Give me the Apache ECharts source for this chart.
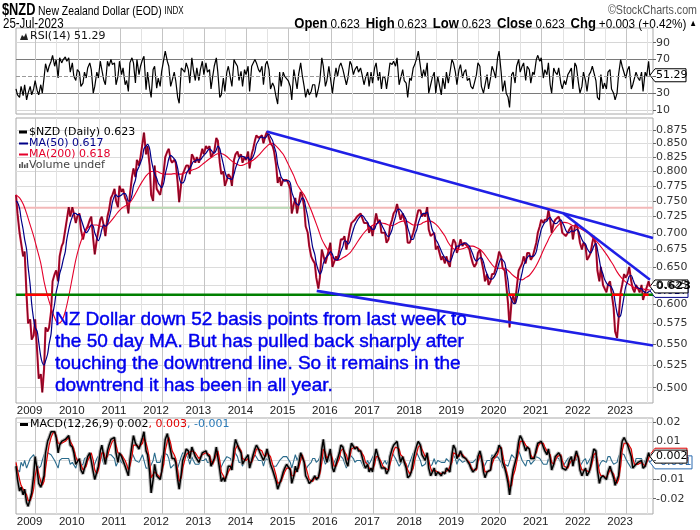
<!DOCTYPE html>
<html><head><meta charset="utf-8">
<script src="https://cdn.jsdelivr.net/npm/echarts@6/dist/echarts.min.js"></script>
<style>html,body{margin:0;padding:0;background:#fff}#c{width:700px;height:530px}</style>
</head><body><div id="c"></div>
<script>
// ---------------- DATA (semi-monthly closes, Jul-2008 .. Jul-2023) ----------------
const price = [
0.760,0.730,0.700,0.698,0.665,0.672,0.610,0.575,0.580,0.555,0.560,0.580,
0.540,0.510,0.515,0.495,0.520,0.570,0.565,0.570,0.590,0.630,0.640,0.645,0.630,0.665,0.680,0.685,0.705,0.720,0.740,0.725,0.740,0.730,0.715,0.725,
0.730,0.705,0.690,0.700,0.700,0.710,0.720,0.725,0.690,0.668,0.690,0.690,0.720,0.725,0.710,0.695,0.725,0.735,0.755,0.760,0.770,0.750,0.740,0.775,
0.765,0.770,0.755,0.750,0.730,0.760,0.790,0.805,0.790,0.820,0.810,0.825,0.850,0.870,0.830,0.845,0.810,0.760,0.750,0.810,0.770,0.770,0.760,0.775,
0.800,0.825,0.835,0.840,0.820,0.815,0.820,0.815,0.780,0.748,0.780,0.795,0.795,0.810,0.810,0.795,0.830,0.825,0.815,0.825,0.815,0.825,0.840,0.830,
0.845,0.840,0.845,0.825,0.825,0.835,0.860,0.855,0.815,0.795,0.800,0.775,0.785,0.795,0.790,0.775,0.820,0.830,0.835,0.825,0.830,0.815,0.825,0.820,
0.835,0.805,0.830,0.840,0.855,0.865,0.860,0.860,0.865,0.850,0.865,0.872,0.870,0.850,0.845,0.835,0.810,0.780,0.790,0.775,0.785,0.785,0.785,0.780,
0.770,0.730,0.745,0.755,0.730,0.745,0.765,0.760,0.740,0.710,0.700,0.680,0.665,0.660,0.655,0.635,0.620,0.635,0.675,0.675,0.655,0.655,0.675,0.685,
0.650,0.650,0.665,0.660,0.675,0.690,0.690,0.695,0.675,0.675,0.705,0.715,0.715,0.720,0.725,0.725,0.730,0.730,0.715,0.715,0.715,0.700,0.710,0.695,
0.715,0.730,0.715,0.720,0.700,0.700,0.700,0.685,0.690,0.710,0.720,0.730,0.735,0.745,0.730,0.720,0.730,0.720,0.710,0.685,0.685,0.685,0.700,0.710,
0.725,0.735,0.735,0.725,0.730,0.725,0.740,0.705,0.695,0.695,0.700,0.675,0.680,0.680,0.660,0.665,0.655,0.665,0.655,0.650,0.680,0.690,0.685,0.670,
0.680,0.690,0.680,0.685,0.685,0.680,0.675,0.665,0.655,0.650,0.655,0.670,0.675,0.660,0.645,0.630,0.640,0.625,0.630,0.640,0.640,0.640,0.660,0.672,
0.665,0.648,0.645,0.625,0.600,0.570,0.605,0.610,0.600,0.620,0.645,0.645,0.655,0.665,0.655,0.670,0.670,0.660,0.665,0.665,0.685,0.700,0.710,0.720,
0.715,0.720,0.720,0.735,0.720,0.700,0.715,0.720,0.720,0.725,0.715,0.700,0.700,0.695,0.700,0.705,0.710,0.690,0.710,0.715,0.700,0.685,0.675,0.685,
0.680,0.660,0.665,0.670,0.685,0.695,0.680,0.645,0.630,0.650,0.625,0.625,0.615,0.625,0.630,0.615,0.595,0.565,0.557,0.580,0.615,0.625,0.640,0.635,
0.640,0.650,0.630,0.620,0.615,0.625,0.620,0.615,0.625,0.605,0.615,0.615,0.630,0.623];
const ma50 = [
0.750,0.748,0.738,0.722,0.705,0.690,0.675,0.650,0.625,0.600,0.580,0.570,
0.565,0.552,0.535,0.528,0.525,0.530,0.538,0.550,0.562,0.585,0.600,0.615,0.627,0.640,0.650,0.660,0.672,0.690,0.705,0.715,0.725,0.730,0.730,0.728,
0.728,0.722,0.712,0.705,0.700,0.702,0.708,0.712,0.710,0.700,0.692,0.688,0.695,0.705,0.712,0.710,0.713,0.722,0.735,0.748,0.758,0.760,0.757,0.758,
0.760,0.762,0.762,0.758,0.750,0.750,0.760,0.775,0.785,0.800,0.808,0.815,0.825,0.840,0.845,0.848,0.840,0.822,0.805,0.795,0.788,0.780,0.775,0.772,
0.780,0.795,0.810,0.822,0.828,0.826,0.822,0.818,0.805,0.790,0.780,0.780,0.785,0.795,0.802,0.805,0.812,0.817,0.818,0.820,0.820,0.820,0.825,0.828,
0.832,0.836,0.840,0.838,0.834,0.832,0.838,0.845,0.840,0.828,0.812,0.800,0.790,0.788,0.787,0.786,0.795,0.805,0.815,0.822,0.827,0.826,0.825,0.822,
0.825,0.820,0.822,0.826,0.835,0.848,0.855,0.860,0.862,0.860,0.860,0.865,0.867,0.862,0.855,0.845,0.832,0.812,0.800,0.790,0.785,0.783,0.784,0.784,
0.780,0.765,0.755,0.748,0.745,0.743,0.750,0.755,0.752,0.740,0.725,0.710,0.692,0.678,0.668,0.655,0.645,0.640,0.645,0.655,0.662,0.665,0.668,0.672,
0.668,0.662,0.660,0.660,0.665,0.672,0.680,0.688,0.687,0.683,0.687,0.695,0.705,0.712,0.718,0.722,0.726,0.727,0.724,0.720,0.716,0.711,0.708,0.705,
0.706,0.712,0.716,0.718,0.713,0.708,0.702,0.697,0.694,0.697,0.705,0.715,0.725,0.735,0.737,0.735,0.730,0.726,0.720,0.708,0.698,0.690,0.690,0.697,
0.705,0.715,0.724,0.728,0.730,0.730,0.732,0.725,0.715,0.705,0.698,0.690,0.685,0.680,0.673,0.668,0.663,0.660,0.658,0.657,0.663,0.670,0.676,0.680,
0.680,0.682,0.683,0.684,0.685,0.683,0.680,0.675,0.668,0.662,0.658,0.660,0.663,0.663,0.657,0.648,0.640,0.635,0.633,0.633,0.636,0.640,0.648,0.656,
0.662,0.660,0.656,0.645,0.630,0.612,0.605,0.601,0.600,0.605,0.618,0.630,0.642,0.652,0.658,0.663,0.666,0.665,0.665,0.666,0.672,0.683,0.695,0.705,
0.712,0.716,0.718,0.722,0.724,0.720,0.716,0.714,0.715,0.718,0.720,0.716,0.710,0.704,0.700,0.700,0.703,0.702,0.703,0.705,0.703,0.697,0.690,0.686,
0.683,0.677,0.672,0.670,0.674,0.680,0.684,0.675,0.660,0.648,0.640,0.633,0.628,0.625,0.624,0.622,0.615,0.602,0.588,0.583,0.585,0.595,0.610,0.622,
0.630,0.637,0.638,0.633,0.627,0.623,0.621,0.620,0.620,0.617,0.615,0.614,0.616,0.617];
// monthly (mid-month) 200-day MA
const ma200 = [
0.760,0.755,0.745,0.730,0.712,0.695,
0.675,0.655,0.630,0.610,0.595,0.582,0.575,0.578,0.590,0.610,0.635,0.660,
0.680,0.695,0.705,0.710,0.712,0.712,0.710,0.710,0.712,0.718,0.725,0.732,
0.738,0.742,0.745,0.752,0.762,0.773,0.783,0.792,0.798,0.800,0.800,0.797,
0.795,0.795,0.795,0.796,0.795,0.795,0.797,0.800,0.802,0.804,0.807,0.812,
0.817,0.822,0.826,0.830,0.832,0.830,0.826,0.820,0.815,0.812,0.810,0.812,
0.815,0.818,0.822,0.828,0.835,0.842,0.848,0.850,0.845,0.838,0.830,0.818,
0.805,0.792,0.778,0.768,0.760,0.748,0.735,0.720,0.705,0.690,0.680,0.672,
0.663,0.659,0.660,0.663,0.666,0.670,0.677,0.685,0.693,0.700,0.706,0.710,
0.713,0.715,0.715,0.714,0.712,0.711,0.713,0.716,0.718,0.718,0.715,0.712,
0.712,0.713,0.716,0.718,0.718,0.715,0.710,0.703,0.695,0.685,0.678,0.675,
0.675,0.676,0.678,0.680,0.680,0.678,0.675,0.670,0.663,0.656,0.650,0.648,
0.648,0.648,0.645,0.640,0.636,0.633,0.632,0.635,0.638,0.644,0.652,0.662,
0.674,0.685,0.695,0.703,0.710,0.715,0.716,0.715,0.712,0.710,0.708,0.705,
0.702,0.698,0.693,0.688,0.682,0.675,0.668,0.660,0.652,0.643,0.636,0.631,
0.627,0.624,0.621,0.620,0.620,0.619,0.618];
const rsi = [
35,28,25,38,27,40,22,30,38,28,35,45,
33,28,40,30,48,65,55,62,68,75,62,70,48,72,66,70,73,68,72,55,66,50,45,58,
55,38,42,55,48,60,66,58,30,38,55,48,68,58,45,40,68,62,70,64,66,40,50,68,
52,60,40,45,32,66,72,66,42,70,52,62,70,74,34,55,35,25,58,62,36,48,38,56,
70,80,68,62,38,45,55,45,25,18,60,62,55,66,58,42,72,58,45,60,45,58,68,52,
66,55,58,35,50,62,72,55,25,28,48,32,55,62,48,38,70,66,62,45,56,38,58,52,
62,32,62,64,70,66,58,55,62,40,64,68,58,35,42,38,25,17,55,38,55,50,52,45,
38,22,58,56,35,52,66,52,38,25,35,28,32,40,40,25,35,45,72,62,38,45,62,60,
30,45,60,50,62,66,58,60,40,48,68,64,52,58,62,55,60,52,40,48,55,38,55,42,
60,66,45,55,35,50,48,35,52,66,64,68,62,72,40,42,58,45,42,25,48,45,60,64,
72,80,62,48,58,50,66,30,40,48,55,30,50,48,28,48,35,55,42,40,70,66,55,40,
58,64,48,55,58,45,48,38,35,42,52,66,62,38,30,28,52,35,48,62,55,48,72,80,
55,32,45,30,25,13,52,55,42,62,70,55,62,66,45,62,58,42,55,52,70,75,68,72,
48,58,52,66,40,30,60,55,52,60,42,35,45,40,52,55,60,35,66,62,42,30,38,55,
45,32,52,55,62,62,45,25,22,52,35,42,35,55,58,35,30,22,30,52,70,62,64,48,
58,62,35,40,42,55,48,45,55,32,55,50,68,51.29];
const macd = [
-0.003,-0.010,-0.016,-0.014,-0.018,-0.015,-0.022,-0.024,-0.020,-0.017,-0.008,0.002,
-0.005,-0.012,-0.014,-0.013,-0.008,0.004,0.010,0.012,0.015,0.016,0.015,0.012,0.004,0.008,0.010,0.009,0.011,0.012,0.013,0.008,0.007,0.004,-0.002,-0.001,
0.001,-0.005,-0.007,-0.004,-0.001,0.002,0.004,0.005,-0.006,-0.010,-0.006,-0.003,0.005,0.008,0.002,-0.002,0.005,0.008,0.011,0.012,0.012,0.004,-0.001,0.004,
0.002,0.001,-0.003,-0.004,-0.008,0.000,0.008,0.013,0.009,0.008,0.006,0.007,0.012,0.015,0.005,0.003,-0.006,-0.017,-0.010,-0.002,-0.008,-0.009,-0.010,-0.006,
0.004,0.011,0.014,0.013,0.005,0.001,0.001,-0.001,-0.010,-0.015,-0.007,0.000,0.003,0.006,0.005,0.001,0.007,0.006,0.002,0.002,-0.001,0.001,0.004,0.003,
0.005,0.003,0.002,-0.003,-0.003,0.001,0.007,0.006,-0.005,-0.011,-0.009,-0.011,-0.007,-0.003,-0.003,-0.005,0.006,0.011,0.010,0.006,0.004,-0.002,0.000,-0.001,
0.003,-0.004,0.000,0.003,0.006,0.008,0.006,0.004,0.005,0.000,0.003,0.006,0.005,-0.002,-0.005,-0.006,-0.011,-0.015,-0.012,-0.010,-0.006,-0.004,-0.002,-0.002,
-0.005,-0.012,-0.008,-0.003,-0.006,-0.002,0.004,0.005,-0.001,-0.008,-0.010,-0.012,-0.012,-0.010,-0.008,-0.010,-0.009,-0.005,0.006,0.011,0.002,-0.001,0.003,0.006,
-0.004,-0.006,-0.002,-0.001,0.004,0.008,0.007,0.006,-0.001,-0.003,0.005,0.009,0.008,0.006,0.007,0.005,0.005,0.004,-0.002,-0.004,-0.002,-0.006,-0.004,-0.006,
0.002,0.006,0.002,0.002,-0.004,-0.005,-0.004,-0.007,-0.005,0.002,0.006,0.008,0.008,0.010,0.003,-0.001,0.002,-0.001,-0.004,-0.009,-0.008,-0.006,0.000,0.004,
0.008,0.010,0.008,0.003,0.002,0.000,0.004,-0.004,-0.008,-0.008,-0.004,-0.008,-0.006,-0.005,-0.008,-0.006,-0.007,-0.004,-0.005,-0.006,0.003,0.008,0.006,0.001,
0.003,0.005,0.002,0.002,0.001,0.000,-0.002,-0.004,-0.006,-0.007,-0.004,0.002,0.005,0.002,-0.006,-0.009,-0.006,-0.007,-0.005,0.001,0.002,0.001,0.005,0.008,
0.006,-0.001,-0.004,-0.007,-0.012,-0.018,-0.010,-0.005,-0.004,0.002,0.010,0.013,0.011,0.010,0.005,0.007,0.006,0.001,0.000,0.001,0.006,0.009,0.010,0.010,
0.007,0.005,0.003,0.006,0.001,-0.005,-0.002,0.002,0.003,0.004,0.002,-0.004,-0.005,-0.005,-0.003,0.000,0.002,-0.003,0.002,0.005,0.001,-0.005,-0.008,-0.006,
-0.004,-0.008,-0.006,-0.003,0.002,0.006,0.005,-0.005,-0.012,-0.009,-0.008,-0.009,-0.010,-0.006,-0.003,-0.004,-0.009,-0.013,-0.013,-0.008,0.004,0.010,0.012,0.011,
0.008,0.009,0.002,-0.004,-0.005,-0.002,-0.001,-0.002,0.000,-0.004,-0.003,0.000,0.004,0.002];
const signal = [
-0.001,-0.005,-0.010,-0.013,-0.015,-0.015,-0.018,-0.021,-0.021,-0.019,-0.015,-0.008,
-0.003,-0.007,-0.011,-0.013,-0.011,-0.004,0.003,0.008,0.012,0.014,0.015,0.013,0.009,0.008,0.009,0.009,0.010,0.011,0.012,0.010,0.008,0.006,0.002,0.000,
0.000,-0.002,-0.005,-0.005,-0.003,0.000,0.002,0.004,0.000,-0.005,-0.007,-0.005,0.000,0.004,0.004,0.001,0.002,0.005,0.008,0.010,0.011,0.008,0.004,0.003,
0.003,0.002,0.000,-0.002,-0.005,-0.003,0.002,0.008,0.009,0.008,0.007,0.007,0.009,0.012,0.009,0.006,0.000,-0.009,-0.010,-0.006,-0.007,-0.008,-0.009,-0.008,
-0.002,0.005,0.010,0.012,0.009,0.005,0.003,0.001,-0.005,-0.011,-0.009,-0.004,0.000,0.003,0.004,0.003,0.005,0.006,0.004,0.003,0.001,0.001,0.003,0.003,
0.004,0.004,0.003,0.000,-0.002,-0.001,0.003,0.005,0.000,-0.006,-0.008,-0.010,-0.009,-0.006,-0.004,-0.004,0.001,0.006,0.008,0.007,0.005,0.001,0.000,0.000,
0.001,-0.001,-0.001,0.001,0.003,0.006,0.006,0.005,0.005,0.003,0.002,0.004,0.005,0.002,-0.002,-0.004,-0.008,-0.012,-0.012,-0.011,-0.008,-0.006,-0.004,-0.003,
-0.004,-0.008,-0.008,-0.006,-0.006,-0.004,0.000,0.003,0.002,-0.003,-0.007,-0.010,-0.011,-0.011,-0.009,-0.009,-0.009,-0.007,-0.001,0.006,0.004,0.001,0.002,0.004,
0.001,-0.003,-0.003,-0.002,0.001,0.005,0.006,0.006,0.003,0.000,0.002,0.006,0.007,0.007,0.007,0.006,0.005,0.005,0.002,-0.001,-0.002,-0.004,-0.004,-0.005,
-0.002,0.002,0.002,0.002,-0.001,-0.003,-0.004,-0.005,-0.005,-0.002,0.002,0.005,0.007,0.008,0.006,0.003,0.002,0.000,-0.002,-0.005,-0.007,-0.007,-0.004,0.000,
0.004,0.007,0.008,0.006,0.004,0.002,0.003,0.000,-0.004,-0.006,-0.005,-0.006,-0.006,-0.006,-0.007,-0.006,-0.006,-0.005,-0.005,-0.005,-0.001,0.004,0.005,0.003,
0.002,0.004,0.003,0.002,0.001,0.000,-0.001,-0.003,-0.005,-0.006,-0.005,-0.001,0.003,0.003,-0.002,-0.006,-0.006,-0.006,-0.005,-0.002,0.001,0.001,0.003,0.006,
0.007,0.003,-0.002,-0.005,-0.009,-0.014,-0.013,-0.008,-0.005,-0.001,0.005,0.010,0.011,0.010,0.008,0.007,0.006,0.003,0.001,0.001,0.004,0.007,0.009,0.010,
0.009,0.007,0.005,0.005,0.003,-0.001,-0.002,0.000,0.002,0.003,0.003,0.000,-0.003,-0.004,-0.004,-0.002,0.000,-0.001,0.000,0.003,0.002,-0.002,-0.005,-0.006,
-0.005,-0.006,-0.006,-0.004,-0.001,0.003,0.004,0.000,-0.006,-0.008,-0.008,-0.009,-0.009,-0.008,-0.005,-0.004,-0.007,-0.010,-0.012,-0.010,-0.003,0.005,0.009,0.010,
0.009,0.009,0.006,0.001,-0.002,-0.003,-0.002,-0.002,-0.001,-0.002,-0.003,-0.002,0.001,0.003];
const hist = [
-0.002,-0.005,-0.006,-0.001,-0.003,0.000,-0.004,-0.003,0.001,0.002,0.003,0.004,
-0.002,-0.004,-0.003,0.000,0.003,0.004,0.004,0.003,0.003,0.002,0.000,-0.001,-0.004,0.000,0.001,0.000,0.001,0.001,0.001,-0.002,-0.001,-0.002,-0.004,-0.001,
0.001,-0.003,-0.002,0.001,0.002,0.002,0.002,0.001,-0.004,-0.004,0.001,0.002,0.004,0.003,-0.002,-0.003,0.003,0.003,0.003,0.002,0.001,-0.003,-0.004,0.001,
-0.001,-0.001,-0.003,-0.002,-0.003,0.003,0.004,0.004,0.000,0.000,-0.001,0.000,0.003,0.003,-0.004,-0.003,-0.004,-0.005,0.000,0.004,-0.001,-0.001,-0.001,0.002,
0.004,0.004,0.003,0.001,-0.004,-0.003,-0.002,-0.002,-0.004,-0.004,0.002,0.004,0.003,0.003,0.001,-0.002,0.002,0.000,-0.002,-0.001,-0.002,0.000,0.001,0.000,
0.001,-0.001,-0.001,-0.003,-0.001,0.002,0.004,0.001,-0.005,-0.005,-0.001,-0.001,0.002,0.003,0.001,-0.001,0.005,0.005,0.002,-0.001,-0.001,-0.003,0.000,-0.001,
0.002,-0.003,0.001,0.002,0.003,0.002,0.000,-0.001,0.000,-0.003,0.001,0.002,0.000,-0.004,-0.003,-0.002,-0.003,-0.003,0.000,0.001,0.002,0.002,0.002,0.001,
-0.001,-0.004,0.000,0.003,0.000,0.002,0.004,0.002,-0.003,-0.005,-0.003,-0.002,-0.001,0.001,0.001,-0.001,0.000,0.002,0.004,0.004,-0.002,-0.002,0.001,0.002,
-0.003,-0.002,0.001,0.001,0.003,0.003,0.001,0.000,-0.004,-0.003,0.003,0.003,0.001,-0.001,0.000,-0.001,0.000,-0.001,-0.004,-0.003,0.000,-0.002,0.000,-0.001,
0.004,0.004,0.000,0.000,-0.003,-0.002,0.000,-0.002,0.000,0.004,0.004,0.003,0.001,0.002,-0.003,-0.004,0.000,-0.001,-0.002,-0.004,-0.001,0.001,0.004,0.004,
0.004,0.003,0.000,-0.003,-0.002,-0.002,0.001,-0.004,-0.004,-0.002,0.001,-0.002,0.000,0.001,-0.001,0.000,-0.001,0.001,0.000,-0.001,0.004,0.004,0.001,-0.002,
0.001,0.001,-0.001,0.000,0.000,0.000,-0.001,-0.001,-0.001,-0.001,0.001,0.003,0.002,-0.001,-0.004,-0.003,0.000,-0.001,0.000,0.003,0.001,0.000,0.002,0.002,
-0.001,-0.004,-0.002,-0.002,-0.003,-0.004,0.003,0.003,0.001,0.003,0.005,0.003,0.000,0.000,-0.003,0.000,0.000,-0.002,-0.001,0.000,0.002,0.002,0.001,0.000,
-0.002,-0.002,-0.002,0.001,-0.002,-0.004,0.000,0.002,0.001,0.001,-0.001,-0.004,-0.002,-0.001,0.001,0.002,0.002,-0.002,0.002,0.002,-0.001,-0.003,-0.003,0.000,
0.001,-0.002,0.000,0.001,0.003,0.003,0.001,-0.005,-0.006,-0.001,0.000,0.000,-0.001,0.002,0.002,0.000,-0.002,-0.003,-0.001,0.002,0.004,0.004,0.003,0.001,
-0.001,0.000,-0.004,-0.004,-0.003,0.001,0.001,0.000,0.001,-0.002,0.000,0.002,0.003,-0.001];

const yearLabels = [2009,2010,2011,2012,2013,2014,2015,2016,2017,2018,2019,2020,2021,2022,2023];
const priceTicks = [0.500,0.525,0.550,0.575,0.600,0.625,0.650,0.675,0.700,0.725,0.750,0.775,0.800,0.825,0.850,0.875];
const rsiTicks = [10,30,50,70,90];
const rsiLabels = [10,30,70,90];
const macdTicks = [-0.02,-0.01,0,0.01,0.02];
// annotation lines
const trendUpper = [['2014-06-24',0.872],['2023-08-22',0.692]];
const trendLower = [['2015-09-01',0.617],['2023-08-22',0.548]];
const trendSteep = [['2021-07-08',0.730],['2023-07-27',0.632]];
const supportLevel = 0.612;
const supportRed = [['2008-10-01','2009-05-19'],['2020-03-14','2020-05-15'],['2022-09-01','2022-12-05'],['2023-05-26','2023-07-15']];
const resistLevel = 0.739;
const resistGreen = [['2011-03-03','2015-07-05']];
const firstDate = '2008-07-15', lastDate = '2023-08-22';

// ---------------- helpers ----------------
function dy(s){const p=s.split('-').map(Number);const a=Date.UTC(p[0],0,1),b=Date.UTC(p[0]+1,0,1);return p[0]+(Date.UTC(p[0],p[1]-1,p[2])-a)/(b-a);}
const halfDates=[];const monthDates=[];
for(let y=2008;y<=2023;y++)for(let m=1;m<=12;m++){
  if(y===2008&&m<7)continue; if(y===2023&&m>7)break;
  halfDates.push(`${y}-${m}-15`); halfDates.push((y===2023&&m===7)?`${y}-${m}-25`:`${y}-${m}-28`);
  monthDates.push((y===2023&&m===7)?`${y}-${m}-25`:`${y}-${m}-15`);
}
[['price',price],['ma50',ma50],['rsi',rsi],['macd',macd],['signal',signal],['hist',hist]].forEach(([n,a])=>{if(a.length!==halfDates.length)throw new Error(n+' length '+a.length+' vs '+halfDates.length);});
if(ma200.length!==monthDates.length)throw new Error('ma200 '+ma200.length+' vs '+monthDates.length);
const T=halfDates.map(dy);
const xMin=dy(firstDate), xMax=dy(lastDate);
const L=Math.log;
const pairs=(arr,f)=>arr.map((v,i)=>[T[i],f?f(v):v]);
const halfYears=[];for(let y=2009;y<=2023.5;y+=0.5)halfYears.push(y);

const TXT='"DejaVu Sans", Verdana, sans-serif';
const ARI='"Liberation Sans", Arial, sans-serif';
const GRID=[{left:16,top:28,width:637,height:86},{left:16,top:118,width:637,height:285},{left:16,top:418,width:637,height:96}];

function xAxis(i,labels){return{type:'value',gridIndex:i,min:xMin,max:xMax,
  axisLine:{show:false},axisTick:{show:false,customValues:halfYears},
  axisLabel:{show:labels,customValues:yearLabels,formatter:v=>String(Math.round(v)),color:'#222',fontFamily:ARI,fontSize:11.5,margin:2,padding:[0,12,0,0]},
  splitLine:{show:true,lineStyle:{color:['#c4c4c4','#e2e2e2'],width:1}}};}
function yAxis(i,o){return Object.assign({type:'value',gridIndex:i,position:'right',scale:true,
  axisLine:{show:false},axisTick:{show:true,length:3,lineStyle:{color:'#666'},customValues:o.ticks},
  axisLabel:{customValues:o.labels,formatter:o.fmt,color:'#333',fontFamily:TXT,fontSize:11,margin:3},
  splitLine:{show:true,lineStyle:{color:o.split||'#dcdcdc',width:1}}},{min:o.min,max:o.max});}

const lineS=(name,xi,data,color,width,extra)=>Object.assign({name,type:'line',xAxisIndex:xi,yAxisIndex:xi,data,symbol:'none',silent:true,animation:false,
  lineStyle:{color,width},itemStyle:{color}},extra||{});
const seg=(a,b,v)=>[[dy(a),L(v)],[dy(b),L(v)]];

const series=[];
// RSI
series.push(lineS('RSI',0,pairs(rsi),'#000',1.2,{markLine:{silent:true,symbol:'none',label:{show:false},lineStyle:{color:'#9a9a9a',type:'dashed',width:1},data:[{yAxis:50}]}}));
// Main: resistance pink/green
series.push(lineS('res',1,seg(firstDate,lastDate,resistLevel),'#f3b8b8',2));
resistGreen.forEach(r=>series.push(lineS('resg',1,seg(r[0],r[1],resistLevel),'#b9dcb9',2)));
// price
series.push(lineS('price',1,pairs(price,L),'#d0103a',2.1));
series.push(lineS('priceBlk',1,pairs(price,L),'#000',0.8,{lineStyle:{color:'#000',width:0.8,opacity:0.5}}));
series.push(lineS('MA200',1,monthDates.map((d,i)=>[dy(d),L(ma200[i])]),'#e4002b',1.1,{smooth:0.3}));
series.push(lineS('MA50',1,pairs(ma50,L),'#000088',1.2,{smooth:0.3}));
// support
series.push(lineS('sup',1,seg(firstDate,lastDate,supportLevel),'#008000',2.5));
supportRed.forEach(r=>series.push(lineS('supr',1,seg(r[0],r[1],supportLevel),'#ff0000',2.5)));
// trend lines
[trendUpper,trendLower,trendSteep].forEach(t=>series.push(lineS('trend',1,t.map(p=>[dy(p[0]),L(p[1])]),'#1f1fe6',2.6)));
// MACD
series.push(lineS('hist',2,pairs(hist),'#2a6b8c',1.1));
series.push(lineS('halo',2,pairs(macd),'#b4b4b4',3.6));
series.push(lineS('signal',2,pairs(signal),'#e00000',1.2));
series.push(lineS('macd',2,pairs(macd),'#000',1.5));

const chart=echarts.init(document.getElementById('c'),null,{renderer:'canvas'});
chart.setOption({
  animation:false,backgroundColor:'#fff',
  grid:GRID.map(g=>Object.assign({show:true,borderColor:'#a8a8a8',borderWidth:1,backgroundColor:'#fff'},g)),
  xAxis:[xAxis(0,false),xAxis(1,true),xAxis(2,true)],
  yAxis:[
    yAxis(0,{min:5.2,max:107.5,ticks:rsiTicks,labels:rsiLabels,fmt:v=>String(v),split:['#d6d6d6','#7a7a7a','rgba(0,0,0,0)','#7a7a7a','#d6d6d6']}),
    yAxis(1,{min:L(0.4837),max:L(0.8981),ticks:priceTicks.map(L),labels:priceTicks.map(L),fmt:v=>Math.exp(v).toFixed(3)}),
    yAxis(2,{min:-0.028,max:0.0222,ticks:macdTicks,labels:macdTicks,fmt:v=>Math.abs(v)<1e-9?'':String(+v.toFixed(2))})
  ],
  series
});

// ---------------- texts / boxes ----------------
function txt(x,y,text,font,fill,align,extra){return Object.assign({type:'text',z:100,silent:true,style:{x,y,text,font,fill,align:align||'left',textAlign:align||'left',verticalAlign:'middle',textVerticalAlign:'middle'}},extra||{});}
function ntxt(x,y,sx,style){return {type:'text',z:100,silent:true,x,y,scaleX:sx,style:Object.assign({x:0,y:0,verticalAlign:'middle',textVerticalAlign:'middle'},style)};}
function box(axisIdx,val,text,border,color,bold,w){
  const y=chart.convertToPixel({yAxisIndex:axisIdx},val);
  const x0=650,h=6.5;w=w||32;
  return {type:'group',z:120,silent:true,children:[
    {type:'polygon',shape:{points:[[x0,y],[x0+5,y-h],[x0+5+w,y-h],[x0+5+w,y+h],[x0+5,y+h]]},style:{fill:'#fff',stroke:border,lineWidth:1}},
    {type:'text',style:{x:x0+6,y:y,text,font:(bold?'bold ':'')+'11px '+TXT,fill:color,verticalAlign:'middle',textVerticalAlign:'middle'}}
  ]};
}
const g=[];
// header (narrow look via horizontal scaling)
g.push(ntxt(2,11,0.8,{text:'{a|$NZD} {b|New Zealand Dollar (EOD)} {c|INDX}',rich:{a:{font:'bold 16px '+ARI,fill:'#000'},b:{font:'13px '+ARI,fill:'#000'},c:{font:'10px '+ARI,fill:'#000'}}}));
g.push(ntxt(3,24,0.82,{text:'25-Jul-2023',font:'14px '+ARI,fill:'#000'}));
g.push(ntxt(697,10,0.82,{text:'©StockCharts.com',font:'13px '+ARI,fill:'#555',align:'right',textAlign:'right'}));
g.push(ntxt(697,24,0.87,{align:'right',textAlign:'right',
  text:'{b|Open} {n|0.623}  {b|High} {n|0.623}  {b|Low} {n|0.623}  {b|Close} {n|0.623}  {b|Chg} {n|+0.003 (+0.42%)} {s|▲}',
  rich:{b:{font:'bold 15px '+ARI,fill:'#000'},n:{font:'13.5px '+ARI,fill:'#000'},s:{font:'9px '+ARI,fill:'#000'}}}));
// RSI legend
g.push({type:'polygon',z:100,silent:true,shape:{points:[[20,40],[22,35],[24,37],[26,33],[28,40]]},style:{fill:'#222'}});
g.push(txt(30,36,'RSI(14) 51.29','11px '+TXT,'#111'));
// Main legend
const legY=[132,143.5,154.5,165];
g.push({type:'rect',z:100,silent:true,shape:{x:19,y:legY[0]-1.5,width:8,height:3},style:{fill:'#000'}});
g.push(txt(29,legY[0],'$NZD (Daily) 0.623','11px '+TXT,'#000'));
g.push({type:'rect',z:100,silent:true,shape:{x:19,y:legY[1]-1,width:9,height:2},style:{fill:'#000088'}});
g.push(txt(29,legY[1],'MA(50) 0.617','11px '+TXT,'#000088'));
g.push({type:'rect',z:100,silent:true,shape:{x:19,y:legY[2]-1,width:9,height:2},style:{fill:'#e4002b'}});
g.push(txt(29,legY[2],'MA(200) 0.618','11px '+TXT,'#e4002b'));
[[19,4],[21.5,6],[24,3.5],[26.5,5]].forEach(b=>g.push({type:'rect',z:100,silent:true,shape:{x:b[0],y:legY[3]+4-b[1]-1,width:1.6,height:b[1]},style:{fill:'#555'}}));
g.push(txt(29,legY[3],'Volume undef','11px '+TXT,'#444'));
// MACD legend
g.push({type:'rect',z:100,silent:true,shape:{x:20,y:423,width:8,height:3},style:{fill:'#000'}});
g.push({type:'text',z:100,silent:true,style:{x:30,y:424.5,verticalAlign:'middle',textVerticalAlign:'middle',text:'{k|MACD(12,26,9) 0.002}{r|, 0.003}{u|, -0.001}',
  rich:{k:{font:'11px '+TXT,fill:'#000'},r:{font:'11px '+TXT,fill:'#e00000'},u:{font:'11px '+TXT,fill:'#2a7ab8'}}}});
// annotation
const note=['NZ Dollar down 52 basis points from last week to','the 50 day MA. But has pulled back sharply after','touching the downtrend line. So it remains in the','downtrend it has been in all year.'];
note.forEach((s,i)=>g.push({type:'text',z:100,silent:true,style:{x:55,y:320+i*21.8,text:s,font:'19px '+ARI,fill:'#0000ee',stroke:'#0000ee',lineWidth:0.45,verticalAlign:'middle',textVerticalAlign:'middle'}}));
// value boxes
g.push(box(0,rsi[rsi.length-1],'51.29','#000','#000',false,31));
g.push(box(1,L(ma50[ma50.length-1]),'0.617','#000088','#000088',false,33));
g.push(box(1,L(price[price.length-1]),'0.623','#000','#000',true,33));
g.push(box(2,hist[hist.length-1],'-0.001','#2a6ab0','#2a6ab0',false,37));
g.push(box(2,signal[signal.length-1],'0.003','#e00000','#e00000',false,32));
g.push(box(2,macd[macd.length-1],'0.002','#000','#000',false,32));
chart.setOption({graphic:{elements:g}});
</script></body></html>
